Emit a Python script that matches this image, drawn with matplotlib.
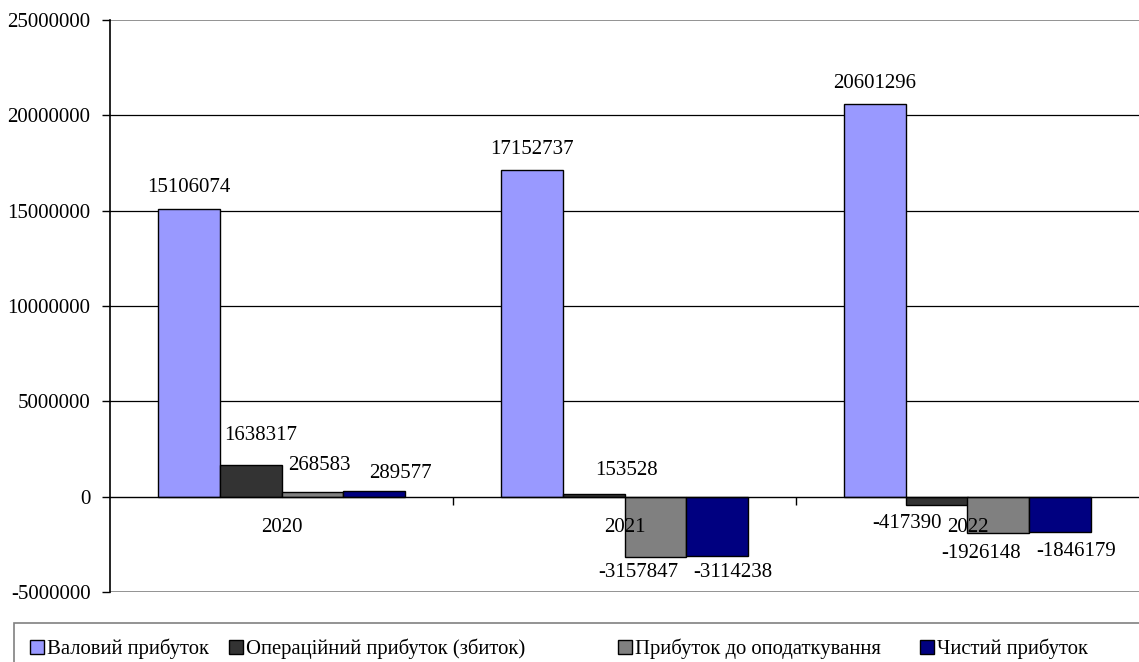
import matplotlib
matplotlib.use("Agg")
import matplotlib.pyplot as plt
from matplotlib.patches import Patch, Rectangle
import numpy as np

# ---- data ----
years = ["2020", "2021", "2022"]
series_names = ["Валовий прибуток", "Операційний прибуток (збиток)",
                "Прибуток до оподаткування", "Чистий прибуток"]
gross = [15106074, 17152737, 20601296]
operating = [1638317, 153528, -417390]
pretax = [268583, -3157847, -1926148]
net = [289577, -3114238, -1846179]
y_ticks = [-5000000, 0, 5000000, 10000000, 15000000, 20000000, 25000000]

# ---- style ----
colors = ["#9999FF", "#333333", "#808080", "#000080"]
# label offsets in pixels (dx, dy) relative to bar end
label_offsets = [
    [(0, 21), (0, 20), (0, 20)],
    [(10, 30), (33, 23), (-30, -19)],
    [(7, 26), (-17, -16), (-17, -20)],
    [(26, 18), (15, -16), (16, -20)],
]
legend_x_px = [30, 229, 618, 920]
FONT = "Liberation Serif"
FS = 15.0
FS_LEG = 14.9

plt.rcParams['font.family'] = [FONT, 'DejaVu Serif']

W, H = 1139, 662
fig = plt.figure(figsize=(W / 100, H / 100), dpi=100)
ax = fig.add_axes([110 / W, 1 - 592 / H, 1 - 110 / W, (592 - 20) / H])

data = [gross, operating, pretax, net]
x = np.arange(len(years))
bw = 62 / 343.5
for j, vals in enumerate(data):
    pos = x + (j - 1.5) * bw
    bars = ax.bar(pos, vals, width=bw, color=colors[j], edgecolor="black",
                  linewidth=1.0, zorder=2, label=series_names[j])
    for k, (b, v) in enumerate(zip(bars, vals)):
        dx, dy = label_offsets[j][k]
        ax.annotate(str(v), xy=(b.get_x() + b.get_width() / 2, v),
                    xytext=(dx, dy), textcoords="offset pixels",
                    ha="center", va="center", fontsize=FS, zorder=6)

ax.set_xlim(-0.5, len(years) - 0.5)
ax.set_ylim(-5000000, 25000000)

# gridlines
for t in y_ticks:
    if t in (-5000000, 25000000):
        ax.axhline(t, color="#808080", linewidth=1.2, zorder=1)
    elif t != 0:
        ax.axhline(t, color="black", linewidth=0.9, zorder=1)

ax.set_yticks(y_ticks)
ax.set_yticklabels([str(t) for t in y_ticks], fontsize=FS)
ax.tick_params(axis="y", direction="out", length=6, width=1, pad=8, colors="black")

# x axis at zero
ax.spines["bottom"].set_position(("data", 0))
ax.spines["bottom"].set_color("black")
ax.spines["bottom"].set_linewidth(1.0)
ax.spines["bottom"].set_zorder(4)
ax.spines["top"].set_visible(False)
ax.spines["right"].set_visible(False)
ax.spines["left"].set_linewidth(1.2)
ax.set_xticks([0.5, 1.5], minor=True)
ax.set_xticks(x)
ax.set_xticklabels(years, fontsize=FS)
ax.tick_params(axis="x", which="major", length=0, pad=15.5)
ax.tick_params(axis="x", which="minor", direction="out", length=6, width=1)
ax.xaxis.set_zorder(5)

# legend entries placed individually, with custom frame
for c, name, xp in zip(colors, series_names, legend_x_px):
    h = Patch(facecolor=c, edgecolor="black", linewidth=1.0)
    fig.legend([h], [name], loc="center left",
               bbox_to_anchor=(xp / W, 1 - 649 / H), frameon=False,
               fontsize=FS_LEG, handlelength=0.68, handleheight=0.68,
               handletextpad=0.15, borderpad=0, borderaxespad=0)
fig.patches.append(Rectangle((14 / W, -0.05), 1.0, 1 - 623 / H + 0.05,
                             transform=fig.transFigure, fill=False,
                             edgecolor="#808080", linewidth=1.2))

fig.savefig("out.png", dpi=100)
